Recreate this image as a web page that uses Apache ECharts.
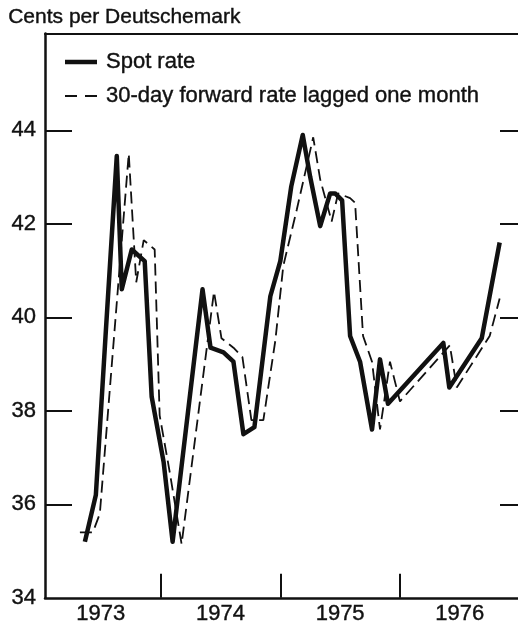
<!DOCTYPE html>
<html lang="en">
<head>
    <meta charset="UTF-8">
    <title>Spot and forward rate, DM</title>
    <script src="https://cdn.jsdelivr.net/npm/echarts@6/dist/echarts.min.js"></script>
    <style>
        html, body { margin: 0; padding: 0; background: #fff; }
        #chart1 { width: 518px; height: 625px; }
    </style>
</head>
<body>
    <div id="chart1"></div>

    <script>
    // months counted from Jan 1973 (0 = start of 1973)
    var spotMonths = [4.4, 5.5, 6.5, 7.6, 8.1, 9.1, 10.4, 11.1, 12.3, 13.2, 16.2, 17.0, 18.3, 19.3, 20.3, 21.4,
                      23.0, 24.0, 25.1, 26.25, 27.0, 28.0, 29.0, 29.5, 30.2, 31.0, 32.0, 33.2, 34.0, 34.8,
                      40.35, 40.95, 44.2, 46.0];
    var spotRates = [35.2, 36.2, 39.7, 43.45, 40.6, 41.45, 41.2, 38.3, 36.9, 35.2, 40.6, 39.35, 39.25, 39.05, 37.5, 37.65,
                     40.45, 41.2, 42.8, 43.9, 43.0, 41.95, 42.65, 42.65, 42.5, 39.6, 39.05, 37.6, 39.1, 38.15,
                     39.45, 38.5, 39.55, 41.6];

    var fwdMonths = [3.9, 5.2, 5.9, 8.8, 9.55, 10.3, 11.4, 11.9, 12.9, 14.1, 17.35, 18.1, 19.3, 20.2, 21.1, 22.3,
                     23.5, 24.3, 25.65, 27.3, 28.0, 29.15, 29.8, 31.0, 31.5, 32.3, 33.2, 34.0, 35.0, 36.0,
                     41.0, 41.7, 45.0, 46.0];
    var fwdRates = [35.4, 35.4, 35.8, 43.5, 40.75, 41.65, 41.45, 37.9, 36.7, 35.15, 40.55, 39.55, 39.35, 39.15, 37.8, 37.8,
                    39.5, 41.1, 42.3, 43.85, 42.95, 42.05, 42.65, 42.55, 42.45, 39.6, 39.05, 37.6, 39.05, 38.2,
                    39.4, 38.5, 39.6, 40.4];

    var years = ['1973', '1974', '1975', '1976'];
    var yearMid = [6, 18, 30, 42];
    var yearTicks = [12, 24, 36];
    var yTicks = [34, 36, 38, 40, 42, 44];
    var seriesNames = ['Spot rate', '30-day forward rate lagged one month'];

    function pairs(xs, ys) {
        var out = [];
        for (var i = 0; i < xs.length; i++) out.push([xs[i], ys[i]]);
        return out;
    }

    var font = '"Liberation Sans", Arial, sans-serif';
    var ink = '#111';
    // slight stroke so the type looks like the heavy printed face
    var heavy = { textBorderColor: ink, textBorderWidth: 0.4 };

    var myChart = echarts.init(document.getElementById('chart1'), null, { renderer: 'canvas' });

    var option = {
        backgroundColor: '#fff',
        animation: false,
        textStyle: { fontFamily: font, color: ink },
        graphic: [
            { type: 'text', left: 8, top: 7,
              style: { text: 'Cents per Deutschemark', font: '21px ' + font, fill: ink, stroke: ink, lineWidth: 0.4 } },
            // legend drawn by hand: plain line keys, no symbols
            { type: 'line', shape: { x1: 65, y1: 62, x2: 97, y2: 62 }, style: { stroke: ink, lineWidth: 4.5 } },
            { type: 'text', x: 106, y: 62,
              style: { text: seriesNames[0], font: '22px ' + font, fill: ink, stroke: ink, lineWidth: 0.4, verticalAlign: 'middle' } },
            { type: 'line', shape: { x1: 65, y1: 96, x2: 97, y2: 96 }, style: { stroke: ink, lineWidth: 1.8, lineDash: [12, 8] } },
            { type: 'text', x: 106, y: 96,
              style: { text: seriesNames[1], font: '22px ' + font, fill: ink, stroke: ink, lineWidth: 0.4, verticalAlign: 'middle' } }
        ],
        grid: { left: 45, right: 0, top: 33.5, bottom: 24.3 },
        xAxis: [{
            type: 'value',
            min: 0.4,
            max: 47.84,
            splitLine: { show: false },
            axisLine: { lineStyle: { color: ink, width: 2.5 } },
            axisTick: { inside: true, length: 24, lineStyle: { color: ink, width: 2 }, customValues: yearTicks },
            axisLabel: Object.assign({
                customValues: yearMid,
                margin: 5,
                fontSize: 22,
                color: ink,
                formatter: function (v) { return years[yearMid.indexOf(v)]; }
            }, heavy)
        }, {
            type: 'value',
            position: 'top',
            min: 0.4,
            max: 47.84,
            splitLine: { show: false },
            axisLine: { lineStyle: { color: ink, width: 2 } },
            axisTick: { show: false },
            axisLabel: { show: false }
        }],
        yAxis: [{
            type: 'value',
            min: 34,
            max: 46.07,
            splitLine: { show: false },
            axisLine: { show: true, lineStyle: { color: ink, width: 2.5 } },
            axisTick: { inside: true, length: 27, lineStyle: { color: ink, width: 2 }, customValues: [36, 38, 40, 42, 44] },
            axisLabel: Object.assign({ customValues: yTicks, margin: 9, fontSize: 22, color: ink }, heavy)
        }, {
            type: 'value',
            position: 'right',
            min: 34,
            max: 46.07,
            splitLine: { show: false },
            axisLine: { show: false },
            axisTick: { show: true, inside: true, length: 18, lineStyle: { color: ink, width: 2 }, customValues: [36, 38, 40, 42, 44] },
            axisLabel: { show: false }
        }],
        series: [{
            name: seriesNames[0],
            type: 'line',
            symbol: 'none',
            data: pairs(spotMonths, spotRates),
            lineStyle: { color: ink, width: 4.5, join: 'round' },
            z: 3
        }, {
            name: seriesNames[1],
            type: 'line',
            symbol: 'none',
            data: pairs(fwdMonths, fwdRates),
            lineStyle: { color: ink, width: 1.8, type: [12, 6] },
            z: 2
        }]
    };

    myChart.setOption(option);
    </script>
</body>
</html>
